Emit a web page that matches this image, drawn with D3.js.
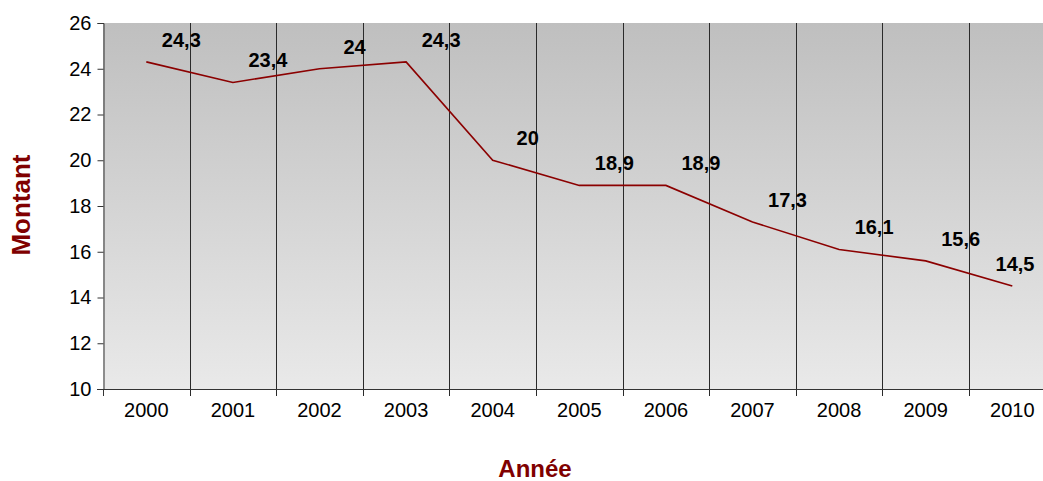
<!DOCTYPE html>
<html lang="fr">
<head>
  <meta charset="utf-8">
  <title>Montant par année</title>
  <script src="https://cdn.jsdelivr.net/npm/d3@7"></script>
  <style>
    body { margin: 0; background: #fff; }
    svg { display: block; font-family: "Liberation Sans", Arial, sans-serif; }
  </style>
</head>
<body>
  <svg class="chart"></svg>
  <script>
    // data
    var years = ["2000", "2001", "2002", "2003", "2004", "2005", "2006", "2007", "2008", "2009", "2010"];
    var montants = [24.3, 23.4, 24, 24.3, 20, 18.9, 18.9, 17.3, 16.1, 15.6, 14.5];
    var yTicks = [10, 12, 14, 16, 18, 20, 22, 24, 26];

    var w = 1043;
    var h = 481;
    var plotLeft = 103, plotTop = 23, plotBottom = 389;
    var bandW = 86.6;

    var svg = d3.select("svg")
      .attr("width", w)
      .attr("height", h);

    var defs = svg.append("defs");
    var grad = defs.append("linearGradient")
      .attr("id", "bg")
      .attr("x1", 0).attr("y1", 0).attr("x2", 0).attr("y2", 1);
    grad.append("stop").attr("offset", "0%").attr("stop-color", "#bfbfbf");
    grad.append("stop").attr("offset", "100%").attr("stop-color", "#e9e9e9");

    var x = d3.scaleBand()
      .domain(years)
      .range([plotLeft, plotLeft + bandW * years.length]);

    var y = d3.scaleLinear()
      .domain([10, 26])
      .range([plotBottom, plotTop]);

    // plot background
    svg.append("rect")
      .attr("x", plotLeft)
      .attr("y", plotTop)
      .attr("width", bandW * years.length)
      .attr("height", plotBottom - plotTop)
      .attr("fill", "url(#bg)");

    // vertical lines between categories
    svg.selectAll(".vline")
      .data(years.slice(1))
      .enter()
      .append("line")
      .attr("class", "vline")
      .attr("x1", function(d) { return Math.round(x(d)) + 0.5; })
      .attr("x2", function(d) { return Math.round(x(d)) + 0.5; })
      .attr("y1", plotTop)
      .attr("y2", plotBottom + 7)
      .attr("stroke", "#2a2a2a")
      .attr("stroke-width", 1);

    // Y axis
    var yAxis = d3.axisLeft(y)
      .tickValues(yTicks)
      .tickSize(6)
      .tickPadding(6);
    var gy = svg.append("g")
      .attr("transform", "translate(" + (plotLeft + 0.5) + ",0)")
      .call(yAxis);
    gy.select(".domain").attr("stroke", "#333");
    gy.selectAll(".tick line").attr("stroke", "#333");
    gy.selectAll("text")
      .attr("font-size", "20px")
      .attr("font-family", "Liberation Sans, Arial, sans-serif")
      .attr("fill", "#000");

    // X axis
    var xAxis = d3.axisBottom(x)
      .tickSize(0)
      .tickPadding(14);
    var gx = svg.append("g")
      .attr("transform", "translate(0," + plotBottom + ")")
      .call(xAxis);
    gx.select(".domain").remove();
    gx.selectAll("text")
      .attr("font-size", "20px")
      .attr("font-family", "Liberation Sans, Arial, sans-serif")
      .attr("fill", "#000");
    svg.append("line")
      .attr("x1", plotLeft - 6).attr("x2", w)
      .attr("y1", plotBottom + 0.5).attr("y2", plotBottom + 0.5)
      .attr("stroke", "#333");
    svg.append("line")
      .attr("x1", plotLeft + 0.5).attr("x2", plotLeft + 0.5)
      .attr("y1", plotBottom).attr("y2", plotBottom + 7)
      .attr("stroke", "#333");

    // line
    var line = d3.line()
      .x(function(d, i) { return x(years[i]) + x.bandwidth() / 2; })
      .y(function(d) { return y(d); });

    svg.append("path")
      .datum(montants)
      .attr("d", line)
      .attr("fill", "none")
      .attr("stroke", "#8b0000")
      .attr("stroke-width", 1.6);

    // value labels
    svg.selectAll(".lbl")
      .data(montants)
      .enter()
      .append("text")
      .attr("class", "lbl")
      .attr("x", function(d, i) {
        var cx = x(years[i]) + x.bandwidth() / 2 + 35;
        return Math.min(cx, w - 28);
      })
      .attr("y", function(d) { return y(d) - 22; })
      .attr("dy", "0.35em")
      .attr("text-anchor", "middle")
      .attr("font-size", "20px")
      .attr("font-weight", "bold")
      .attr("fill", "#000")
      .text(function(d) { return String(d).replace(".", ","); });

    // axis titles
    svg.append("text")
      .attr("transform", "translate(30,205) rotate(-90)")
      .attr("text-anchor", "middle")
      .attr("font-size", "26px")
      .attr("font-weight", "bold")
      .attr("fill", "#800000")
      .text("Montant");

    svg.append("text")
      .attr("x", 535)
      .attr("y", 477)
      .attr("text-anchor", "middle")
      .attr("font-size", "24px")
      .attr("font-weight", "bold")
      .attr("fill", "#800000")
      .text("Année");
  </script>
</body>
</html>
